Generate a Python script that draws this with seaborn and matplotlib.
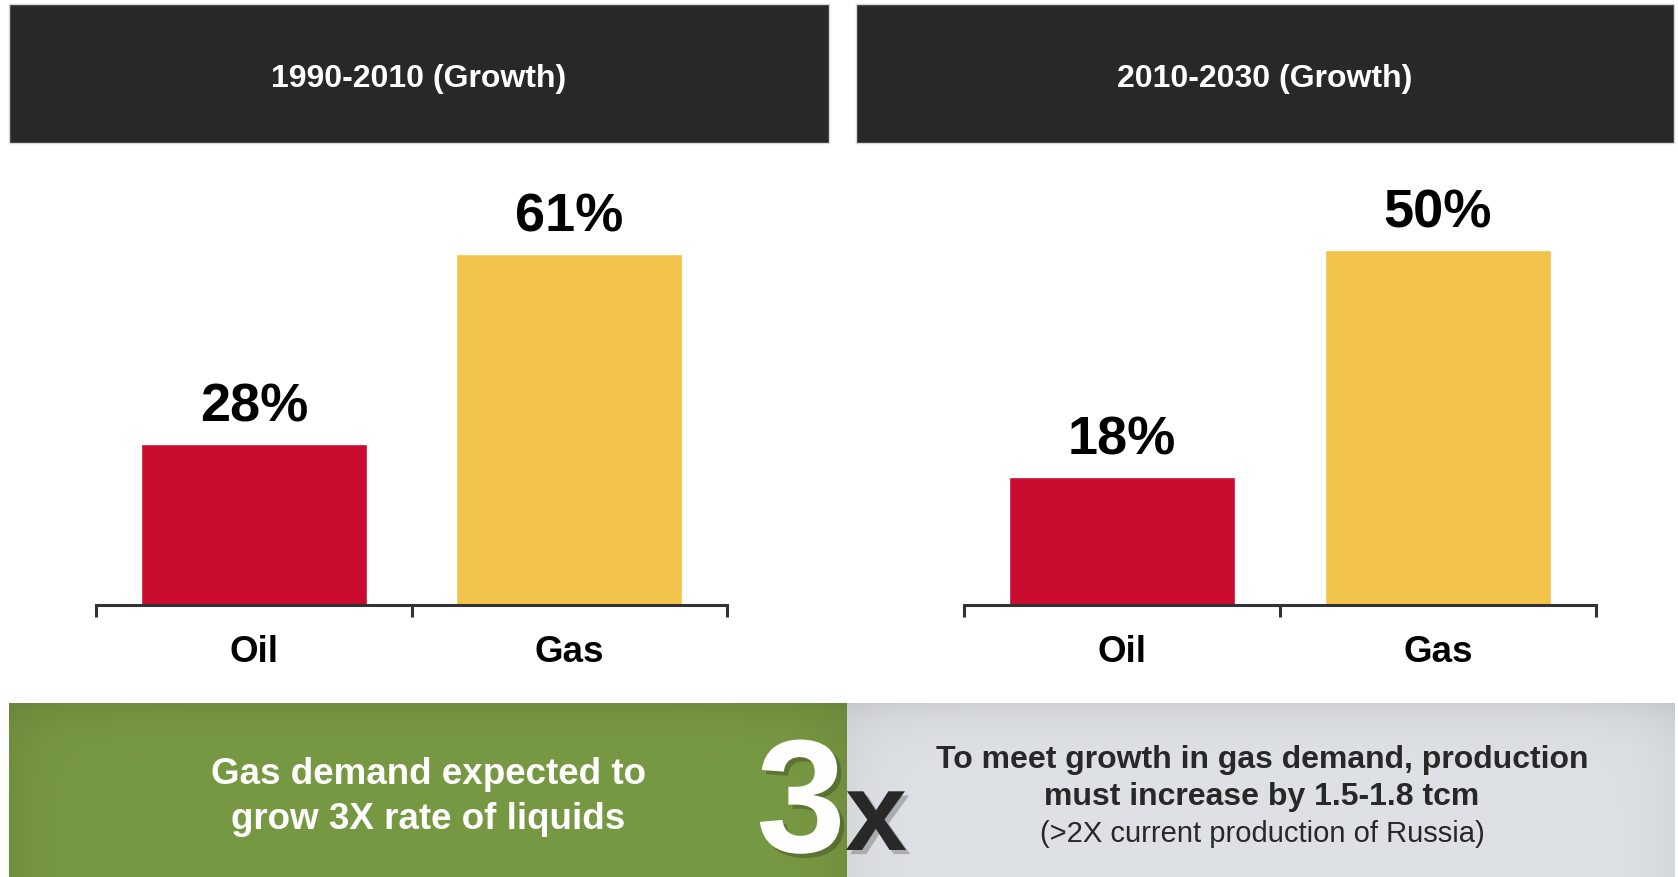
import numpy as np
import pandas as pd
import matplotlib
matplotlib.use("Agg")
import matplotlib.pyplot as plt
import matplotlib.patheffects as pe
from matplotlib.patches import Rectangle
import seaborn as sns

# ---- data -------------------------------------------------------------
periods = ["1990-2010 (Growth)", "2010-2030 (Growth)"]
fuels = ["Oil", "Gas"]
growth_1990_2010 = [28, 61]
growth_2010_2030 = [18, 50]
green_note = ["Gas demand expected to", "grow 3X rate of liquids"]
grey_note = ["To meet growth in gas demand, production",
             "must increase by 1.5-1.8 tcm",
             "(>2X current production of Russia)"]

# ---- style ------------------------------------------------------------
sns.set_theme(style="white")
plt.rcParams["font.family"] = ["Liberation Sans", "DejaVu Sans"]

W, H = 1678, 878
fig = plt.figure(figsize=(W / 100, H / 100), dpi=100)
fig.patch.set_facecolor("white")

DARK = "#282828"
RED = "#c90b30"
GOLD = "#f3c44b"


def fx(x):
    return x / W


def fy(y):
    return 1 - y / H


def box_axes(x0, y0, x1, y1):
    return fig.add_axes([fx(x0), fy(y1), (x1 - x0) / W, (y1 - y0) / H])


# ---- header bands ------------------------------------------------------
headers = [(9, 829), (856, 1674)]
for (x0, x1), title in zip(headers, periods):
    fig.patches.append(Rectangle((fx(x0), fy(144)), (x1 - x0) / W, (144 - 5) / H,
                                 transform=fig.transFigure, facecolor=DARK,
                                 edgecolor="#d8d8d8", lw=1, zorder=0))
    fig.text(fx((x0 + x1) / 2), fy(79), title, color="white", fontsize=23,
             fontweight="bold", ha="center", va="center")

# ---- bar panels ---------------------------------------------------------
panel_x = [(96, 727), (964, 1596)]
panel_ymax = [79, 64]
panel_values = [growth_1990_2010, growth_2010_2030]
for (x0, x1), vals, ymax in zip(panel_x, panel_values, panel_ymax):
    ax = box_axes(x0, 152, x1, 606)
    df = pd.DataFrame({"fuel": fuels, "growth": vals})
    sns.barplot(data=df, x="fuel", y="growth", hue="fuel",
                palette=[RED, GOLD], width=0.717, saturation=1,
                legend=False, ax=ax)
    ax.set_xlim(-0.5, 1.5)
    ax.set_ylim(0, ymax)
    ax.set_facecolor("none")
    for s in ("left", "top", "right"):
        ax.spines[s].set_visible(False)
    ax.spines["bottom"].set_color("#333333")
    ax.spines["bottom"].set_linewidth(2.2)
    ax.set_yticks([])
    ax.set_xlabel("")
    ax.set_ylabel("")
    ax.set_xticks([0, 1])
    ax.set_xticklabels(fuels, fontsize=26.5, fontweight="bold", color="black")
    ax.tick_params(axis="x", which="major", length=0, pad=21)
    ax.set_xticks([-0.5, 0.5, 1.5], minor=True)
    ax.tick_params(axis="x", which="minor", direction="out", length=8.6,
                   width=2.2, color="#333333", bottom=True)
    for cont in ax.containers:
        ax.bar_label(cont, fmt="{:.0f}%", padding=9, fontsize=39,
                     fontweight="bold", color="black")


# ---- bottom banners with soft shading -----------------------------------
def shaded_box(x0, y0, x1, y1, base, edge_dark, top_dark):
    bax = box_axes(x0, y0, x1, y1)
    bax.set_axis_off()
    nx, ny = 300, 80
    u = np.linspace(0, 1, nx)[None, :]
    v = np.linspace(0, 1, ny)[:, None]
    side = np.exp(-u / 0.04) + np.exp(-(1 - u) / 0.04)
    top = np.exp(-v / 0.12)
    shade = 1 - edge_dark * side - top_dark * top
    img = np.clip(np.array(matplotlib.colors.to_rgb(base))[None, None, :]
                  * shade[:, :, None], 0, 1)
    bax.imshow(img, aspect="auto", extent=[0, 1, 0, 1], origin="upper",
               interpolation="bilinear")
    bax.set_xlim(0, 1)
    bax.set_ylim(0, 1)
    return bax


shaded_box(9, 704, 847, 878, "#789943", 0.06, 0.07)
shaded_box(847, 704, 1675, 878, "#dee1e5", 0.04, 0.07)

for text, yb in zip(green_note, [784, 829]):
    fig.text(fx(428), fy(yb), text, color="white", fontsize=26.5,
             fontweight="bold", ha="center", va="baseline")

for i, (text, yb) in enumerate(zip(grey_note, [768, 805, 842])):
    fig.text(fx(1262), fy(yb), text, color=DARK, fontsize=23 if i < 2 else 21,
             fontweight="bold" if i < 2 else "normal", ha="center", va="baseline")

shadow = [pe.withSimplePatchShadow(offset=(3, -3), shadow_rgbFace="black", alpha=0.22)]
fig.text(fx(801), fy(853), "3", color="white", fontsize=116, fontweight="bold",
         ha="center", va="baseline", path_effects=shadow, zorder=5)
fig.text(fx(876), fy(851), "x", color=DARK, fontsize=80, fontweight="bold",
         ha="center", va="baseline", path_effects=shadow, zorder=5)

fig.savefig("out.png", dpi=100, facecolor="white")
